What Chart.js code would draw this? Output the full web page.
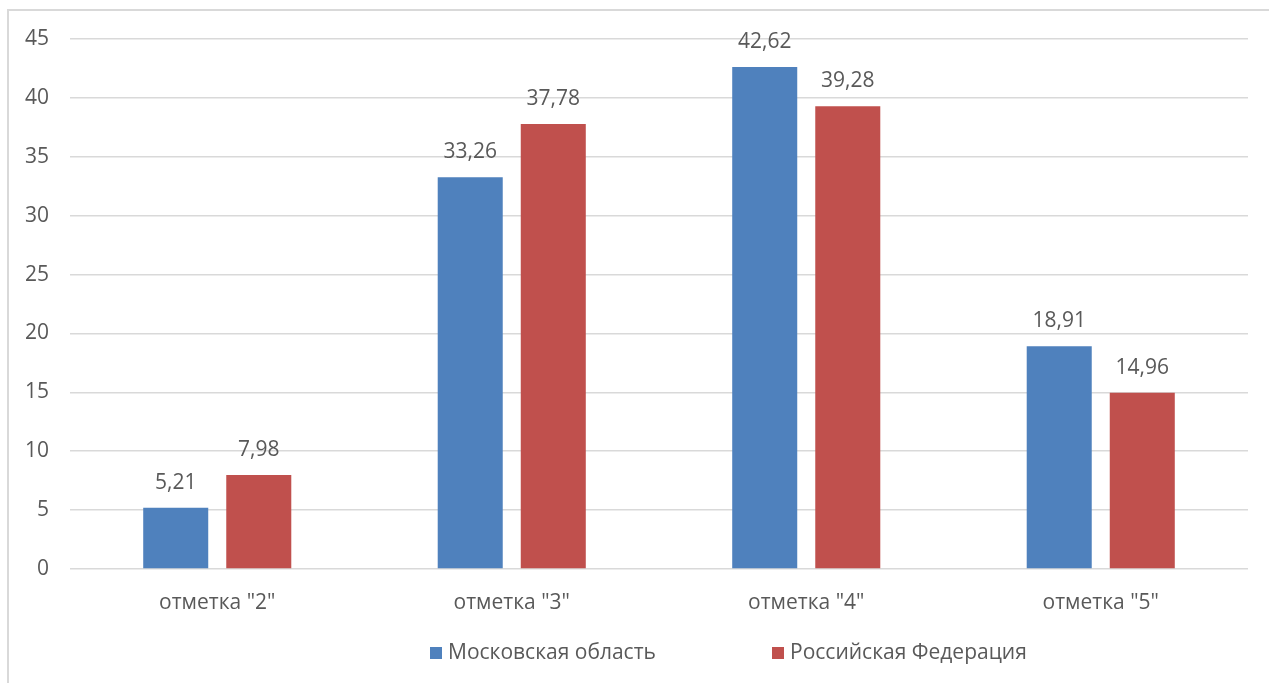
<!DOCTYPE html>
<html>
<head>
<meta charset="utf-8">
<script src="https://cdn.jsdelivr.net/npm/chart.js@4.4.0/dist/chart.umd.min.js"></script>
<style>
  body { margin: 0; background: #fff; overflow: hidden; }
  #frame { position: absolute; left: 7px; top: 9px; width: 1400px; height: 800px;
           border-left: 2px solid #d9d9d9; border-top: 2px solid #d9d9d9; }
  #wrap { position: absolute; left: 0; top: 0; width: 1269px; height: 683px; }
</style>
</head>
<body>
<div id="frame"></div>
<div id="wrap"><canvas id="chart1"></canvas></div>
<script>
// данные с картинки
var categories = ['отметка "2"', 'отметка "3"', 'отметка "4"', 'отметка "5"'];
var moscowRegion = [5.21, 33.26, 42.62, 18.91];
var russia = [7.98, 37.78, 39.28, 14.96];
var seriesNames = ['Московская область', 'Российская Федерация'];
var colors = ['#4f81bd', '#c0504d'];

var fontFamily = '"Open Sans", "Noto Sans", sans-serif';
var textColor = '#595959';

// подписи значений над столбцами
var valueLabels = {
    id: 'valueLabels',
    afterDatasetsDraw: function(chart) {
        var ctx = chart.ctx;
        ctx.save();
        ctx.font = '21px ' + fontFamily;
        ctx.fillStyle = textColor;
        ctx.textAlign = 'center';
        ctx.textBaseline = 'middle';
        chart.data.datasets.forEach(function(ds, i) {
            chart.getDatasetMeta(i).data.forEach(function(bar, j) {
                ctx.fillText(ds.data[j].toFixed(2).replace('.', ','), bar.x, bar.y - 25);
            });
        });
        ctx.restore();
    }
};

// легенда как в Excel (широкий промежуток между элементами)
var bottomLegend = {
    id: 'bottomLegend',
    afterDraw: function(chart) {
        var ctx = chart.ctx;
        var starts = [430, 772];
        var y = 653;
        ctx.save();
        ctx.font = '21px ' + fontFamily;
        ctx.textBaseline = 'middle';
        ctx.textAlign = 'left';
        chart.data.datasets.forEach(function(ds, i) {
            ctx.fillStyle = ds.backgroundColor;
            ctx.fillRect(starts[i], y - 6, 12, 12);
            ctx.fillStyle = textColor;
            ctx.fillText(ds.label, starts[i] + 18, y);
        });
        ctx.restore();
    }
};

var ctx1 = document.getElementById('chart1');
var chart1 = new Chart(ctx1, {
    type: 'bar',
    data: {
        labels: categories,
        datasets: [{
            label: seriesNames[0],
            data: moscowRegion,
            backgroundColor: colors[0],
            categoryPercentage: 0.564,
            barPercentage: 0.783
        }, {
            label: seriesNames[1],
            data: russia,
            backgroundColor: colors[1],
            categoryPercentage: 0.564,
            barPercentage: 0.783
        }]
    },
    options: {
        responsive: true,
        maintainAspectRatio: false,
        animation: false,
        layout: { padding: { top: 39, right: 21, bottom: 0, left: 0 } },
        plugins: {
            legend: { display: false },
            tooltip: { enabled: false }
        },
        scales: {
            x: {
                grid: { display: false, drawTicks: false },
                border: { display: false },
                ticks: { color: textColor, font: { family: fontFamily, size: 21 }, padding: 21 },
                afterFit: function(scale) { scale.height = 114; }
            },
            y: {
                min: 0,
                max: 45,
                ticks: { stepSize: 5, color: textColor, font: { family: fontFamily, size: 21 }, padding: 21 },
                grid: { color: '#d9d9d9', lineWidth: 1.5, drawTicks: false },
                border: { display: false },
                afterFit: function(scale) { scale.width = 70; }
            }
        }
    },
    plugins: [valueLabels, bottomLegend]
});
</script>
</body>
</html>
